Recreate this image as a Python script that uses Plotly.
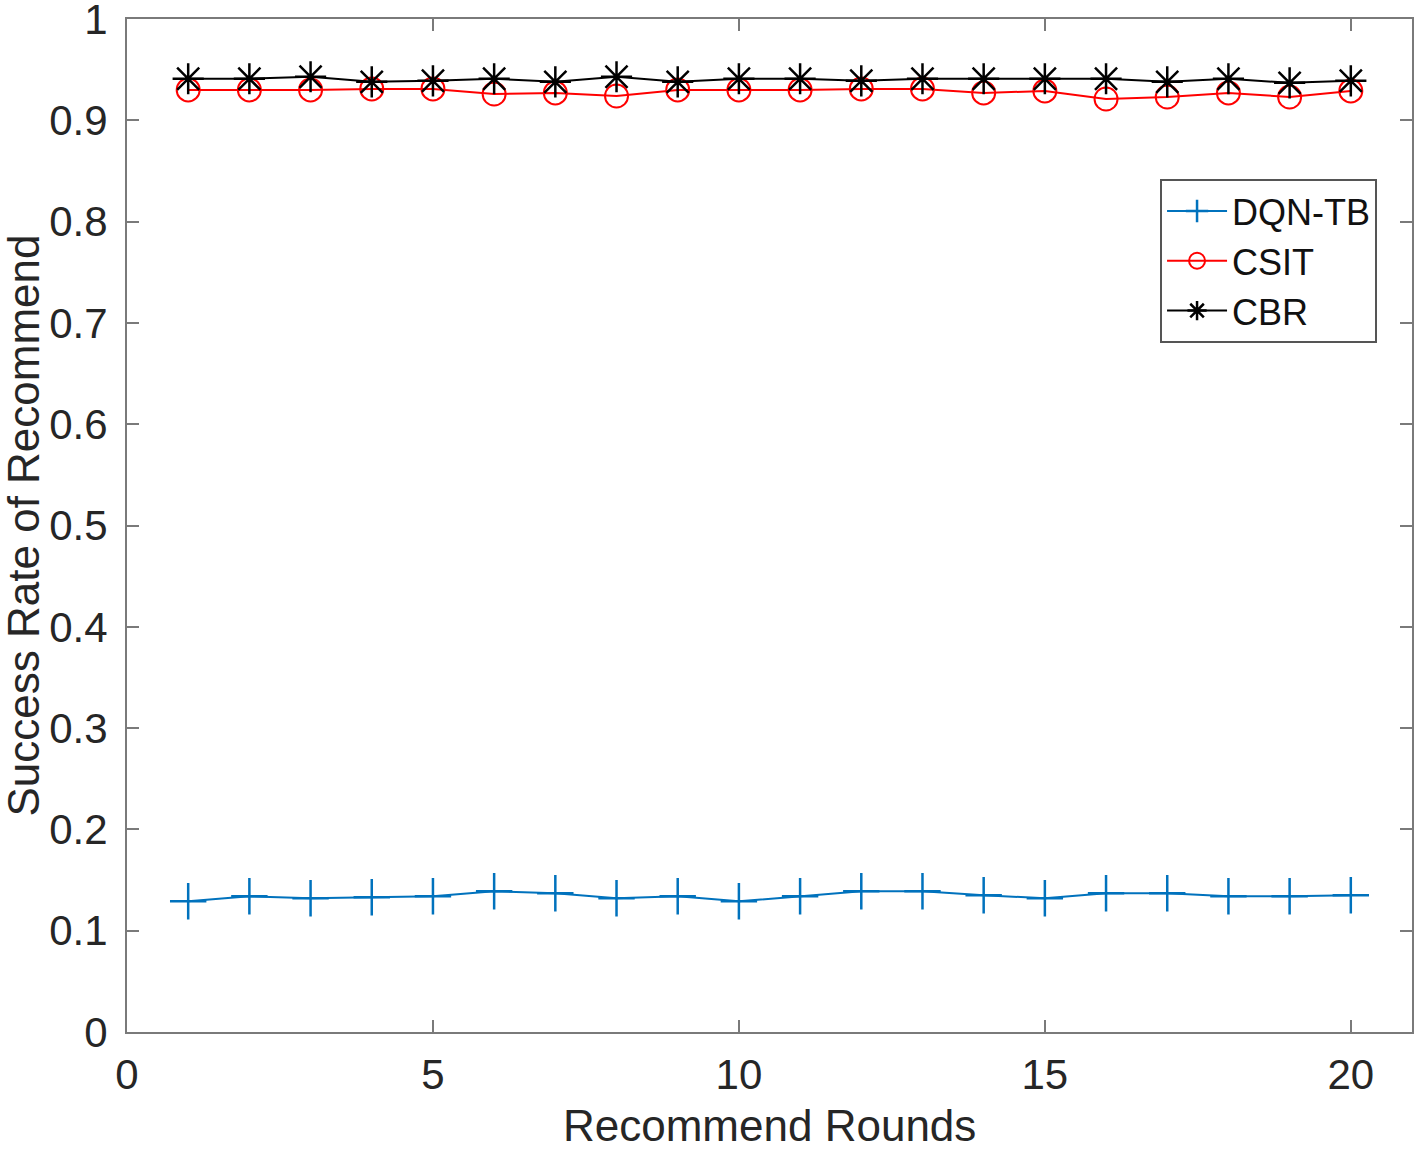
import plotly.graph_objects as go

rounds = list(range(1, 21))
dqn_tb = [0.129, 0.134, 0.132, 0.133, 0.134, 0.139, 0.137, 0.132, 0.134, 0.129,
          0.134, 0.139, 0.139, 0.135, 0.132, 0.137, 0.137, 0.134, 0.134, 0.135]
csit = [0.930, 0.930, 0.930, 0.931, 0.931, 0.926, 0.927, 0.924, 0.930, 0.930,
        0.930, 0.931, 0.931, 0.927, 0.929, 0.921, 0.923, 0.927, 0.923, 0.929]
cbr = [0.941, 0.941, 0.943, 0.938, 0.939, 0.941, 0.938, 0.943, 0.938, 0.941,
       0.941, 0.939, 0.941, 0.941, 0.941, 0.941, 0.938, 0.941, 0.937, 0.939]
x_ticks = [0, 5, 10, 15, 20]
y_ticks = [0, 0.1, 0.2, 0.3, 0.4, 0.5, 0.6, 0.7, 0.8, 0.9, 1]
y_tick_labels = ["0", "0.1", "0.2", "0.3", "0.4", "0.5", "0.6", "0.7", "0.8", "0.9", "1"]

FONT = "Liberation Sans, Arial, sans-serif"
TXT = "#262626"
AX = "#7a7a7a"

fig = go.Figure()
fig.add_trace(go.Scatter(x=rounds, y=dqn_tb, name="DQN-TB", mode="lines+markers",
                         line=dict(color="#0072BD", width=2),
                         marker=dict(symbol="cross-thin-open", size=26,
                                     line=dict(color="#0072BD", width=2.5))))
fig.add_trace(go.Scatter(x=rounds, y=csit, name="CSIT", mode="lines+markers",
                         line=dict(color="#FF0000", width=2),
                         marker=dict(symbol="circle-open", size=23,
                                     line=dict(color="#FF0000", width=2))))
fig.add_trace(go.Scatter(x=rounds, y=cbr, name="CBR", mode="lines+markers",
                         line=dict(color="#000000", width=2),
                         marker=dict(symbol="asterisk-open", size=26,
                                     line=dict(color="#000000", width=2.5))))

axis_common = dict(showgrid=False, zeroline=False, showline=True, linecolor=AX,
                   linewidth=2, mirror="ticks", ticks="inside", ticklen=12,
                   tickwidth=2, tickcolor=AX, automargin=False,
                   ticklabeloverflow="allow",
                   tickfont=dict(family=FONT, size=42, color=TXT))

fig.update_layout(
    width=1418, height=1151,
    margin=dict(l=127, r=6, t=19, b=119),
    paper_bgcolor="white", plot_bgcolor="white",
    xaxis=dict(range=[0, 21], tickvals=x_ticks, ticklabelstandoff=5, **axis_common),
    yaxis=dict(range=[0, 1], tickvals=y_ticks, ticktext=y_tick_labels,
               ticklabelstandoff=9, **axis_common),
    legend=dict(x=0.9728, y=0.842, xanchor="right", yanchor="top",
                bgcolor="white", bordercolor="#555555", borderwidth=2,
                font=dict(family=FONT, size=36, color="#111111"),
                itemwidth=60, tracegroupgap=0),
    showlegend=True,
    annotations=[
        dict(text="Recommend Rounds", xref="paper", yref="paper", x=0.5, y=0,
             xanchor="center", yanchor="top", yshift=-67, showarrow=False,
             font=dict(family=FONT, size=44, color=TXT)),
        dict(text="Success Rate of Recommend", xref="paper", yref="paper", x=0, y=0.5,
             xanchor="center", yanchor="middle", xshift=-104, textangle=-90,
             showarrow=False, font=dict(family=FONT, size=44, color=TXT)),
    ],
)

fig.write_html("out.html", config={"displayModeBar": False},
               post_script="document.body.style.margin='0';document.body.style.padding='0';")
